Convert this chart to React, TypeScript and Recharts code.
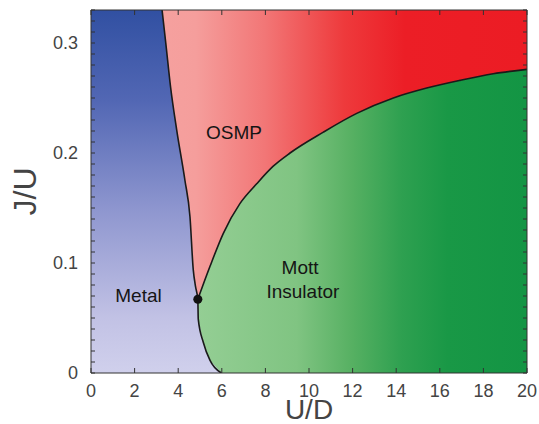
import {
  ComposedChart,
  Area,
  Line,
  Scatter,
  XAxis,
  YAxis,
  ReferenceDot,
  Label,
} from "recharts";

// boundary between Metal and OSMP / Mott (U/D, J/U)
const metalU = [0, 3.26, 3.43, 3.65, 3.93, 4.31, 4.54, 4.69, 4.8, 4.9, 4.92, 5.15, 5.46, 5.98];
const metalJ = [0.33, 0.33, 0.3, 0.26, 0.221, 0.175, 0.142, 0.094, 0.078, 0.067, 0.049, 0.028, 0.0115, 0];

// boundary between OSMP and Mott insulator
const mottU = [4.9, 5.46, 6.07, 6.83, 7.6, 8.36, 9.13, 10.66, 12.19, 13.87, 15.4, 16.93, 18.45, 20];
const mottJ = [0.067, 0.097, 0.127, 0.154, 0.172, 0.188, 0.2, 0.219, 0.236, 0.25, 0.259, 0.266, 0.272, 0.276];

// critical point
const critU = 4.9;
const critJ = 0.067;

const xTicks = [0, 2, 4, 6, 8, 10, 12, 14, 16, 18, 20];
const yTicks = [
  0, 0.01, 0.02, 0.03, 0.04, 0.05, 0.06, 0.07, 0.08, 0.09, 0.1, 0.11, 0.12,
  0.13, 0.14, 0.15, 0.16, 0.17, 0.18, 0.19, 0.2, 0.21, 0.22, 0.23, 0.24, 0.25,
  0.26, 0.27, 0.28, 0.29, 0.3, 0.31, 0.32, 0.33,
];
const yLabelTicks = [0, 0.1, 0.2, 0.3];
const yLabelText = ["0", "0.1", "0.2", "0.3"];

const regionLabels = [
  { u: 6.56, j: 0.219, text: "OSMP" },
  { u: 2.18, j: 0.071, text: "Metal" },
  { u: 9.59, j: 0.096, text: "Mott" },
  { u: 9.72, j: 0.0745, text: "Insulator" },
];

const font = "'Liberation Sans', Arial, Helvetica, sans-serif";

const metalData = metalU.map((u, i) => ({ u, j: metalJ[i] }));
const metalLine = metalData.slice(1);
const mottData = mottU.map((u, i) => ({ u, j: mottJ[i] }));
const bgData = [
  { u: 0, j: 0.33 },
  { u: 20, j: 0.33 },
];

const yFormat = (v: number) => {
  const idx = yLabelTicks.findIndex((t) => Math.abs(t - v) < 1e-6);
  return idx >= 0 ? yLabelText[idx] : "";
};

export default function App() {
  return (
    <div
      style={{
        position: "absolute",
        left: 0,
        top: 0,
        width: 539,
        height: 424,
        background: "#fff",
      }}
    >
      <ComposedChart
        width={539}
        height={424}
        margin={{ top: 0, right: 0, bottom: 0, left: 0 }}
        style={{ fontFamily: font }}
      >
        <defs>
          <linearGradient id="redFill" x1="0" y1="0" x2="1" y2="0">
            <stop offset="0%" stopColor="#f6a6a4" />
            <stop offset="24%" stopColor="#f59e9c" />
            <stop offset="40%" stopColor="#f27676" />
            <stop offset="58%" stopColor="#ee3a3c" />
            <stop offset="72%" stopColor="#ec1e26" />
            <stop offset="100%" stopColor="#ec1c24" />
          </linearGradient>
          <linearGradient id="greenFill" x1="0" y1="0" x2="1" y2="0">
            <stop offset="0%" stopColor="#94ce94" />
            <stop offset="30%" stopColor="#80c482" />
            <stop offset="47%" stopColor="#56b062" />
            <stop offset="62%" stopColor="#2ea050" />
            <stop offset="76%" stopColor="#199846" />
            <stop offset="100%" stopColor="#139544" />
          </linearGradient>
          <linearGradient id="blueFill" x1="0" y1="0" x2="0" y2="1">
            <stop offset="0%" stopColor="#3150a2" />
            <stop offset="25%" stopColor="#5267b4" />
            <stop offset="55%" stopColor="#8e96cf" />
            <stop offset="85%" stopColor="#c2c2e5" />
            <stop offset="100%" stopColor="#d0d0ec" />
          </linearGradient>
        </defs>

        <Area
          data={bgData}
          dataKey="j"
          type="linear"
          stroke="none"
          fill="url(#redFill)"
          fillOpacity={1}
          isAnimationActive={false}
          activeDot={false}
        />
        <Area
          data={mottData}
          dataKey="j"
          type="monotone"
          stroke="none"
          fill="url(#greenFill)"
          fillOpacity={1}
          isAnimationActive={false}
          activeDot={false}
        />
        <Area
          data={metalData}
          dataKey="j"
          type="linear"
          stroke="none"
          fill="url(#blueFill)"
          fillOpacity={1}
          isAnimationActive={false}
          activeDot={false}
        />
        <Line
          data={metalLine}
          dataKey="j"
          type="monotone"
          stroke="#1a1a1a"
          strokeWidth={1.6}
          dot={false}
          activeDot={false}
          isAnimationActive={false}
        />
        <Line
          data={mottData}
          dataKey="j"
          type="monotone"
          stroke="#1a1a1a"
          strokeWidth={1.6}
          dot={false}
          activeDot={false}
          isAnimationActive={false}
        />
        <Scatter
          data={[{ u: critU, j: critJ }]}
          dataKey="j"
          fill="#111"
          isAnimationActive={false}
        />

        {regionLabels.map((l) => (
          <ReferenceDot
            key={l.text}
            x={l.u}
            y={l.j}
            r={0}
            fill="none"
            stroke="none"
            label={{
              value: l.text,
              position: "center",
              fill: "#151515",
              fontSize: 19,
              fontFamily: font,
            }}
          />
        ))}

        <XAxis
          dataKey="u"
          type="number"
          domain={[0, 20]}
          ticks={xTicks}
          allowDataOverflow
          height={51}
          stroke="#333"
          tickSize={-5}
          tickMargin={16}
          tick={{ fill: "#444", fontSize: 18, fontFamily: font }}
        >
          <Label
            value="U/D"
            position="insideBottom"
            offset={5}
            fill="#444"
            fontSize={28}
            fontFamily={font}
          />
        </XAxis>
        <XAxis
          xAxisId="top"
          dataKey="u"
          type="number"
          orientation="top"
          domain={[0, 20]}
          ticks={xTicks}
          allowDataOverflow
          height={10}
          stroke="#333"
          tickSize={-5}
          tickFormatter={() => ""}
        />
        <YAxis
          type="number"
          domain={[0, 0.33]}
          ticks={yTicks}
          interval={0}
          allowDataOverflow
          width={91}
          stroke="#333"
          tickSize={-4}
          tickMargin={17}
          tickFormatter={yFormat}
          tick={{ fill: "#444", fontSize: 18, fontFamily: font }}
        >
          <Label
            value="J/U"
            angle={-90}
            position="center"
            dx={-21}
            fill="#444"
            fontSize={32}
            fontFamily={font}
          />
        </YAxis>
        <YAxis
          yAxisId="right"
          type="number"
          orientation="right"
          domain={[0, 0.33]}
          ticks={yTicks}
          interval={0}
          allowDataOverflow
          width={12}
          stroke="#333"
          tickSize={-4}
          tickFormatter={() => ""}
        />
      </ComposedChart>
    </div>
  );
}
